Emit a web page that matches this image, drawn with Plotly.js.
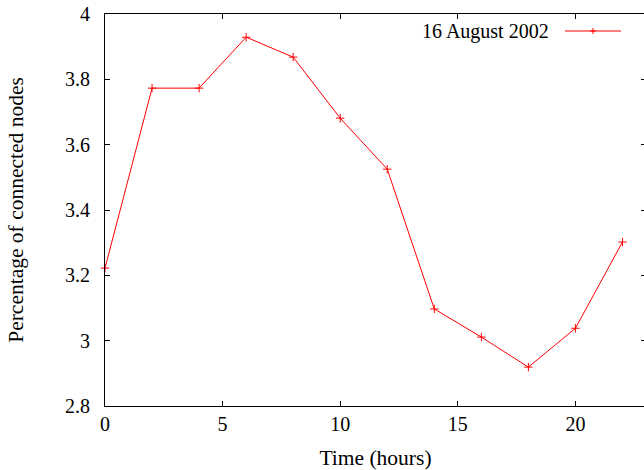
<!DOCTYPE html>
<html>
<head>
<meta charset="utf-8">
<script src="https://cdn.plot.ly/plotly-3.0.1.min.js"></script>
<style>
html,body{margin:0;padding:0;overflow:hidden;background:#fff;}
#chart{width:644px;height:470px;overflow:hidden;}
</style>
</head>
<body>
<div id="chart"></div>
<script>
const hours = [0, 2, 4, 6, 8, 10, 12, 14, 16, 18, 20, 22];
const connected = [3.222, 3.773, 3.773, 3.929, 3.868, 3.681, 3.525, 3.097, 3.011, 2.919, 3.038, 3.302];
const seriesName = "16 August 2002";
const xTicks = [0, 5, 10, 15, 20];
const yTicks = [2.8, 3, 3.2, 3.4, 3.6, 3.8, 4];
const yTickText = ["2.8", "3", "3.2", "3.4", "3.6", "3.8", "4"];

const W = 646, H = 470, L = 105, R = 0, T = 14, B = 64;
const pw = W - L - R, ph = H - T - B;
const px = v => (v - L) / pw;
const py = v => 1 - (v - T) / ph;

const font = {family: "Liberation Serif, Times New Roman, serif", size: 20, color: "#000"};
const titleFont = {family: "Liberation Serif, Times New Roman, serif", size: 21.5, color: "#000"};

const trace = {
  x: hours, y: connected, type: "scatter", mode: "lines+markers", name: seriesName,
  line: {color: "#ff0000", width: 1},
  marker: {symbol: "cross-thin", size: 6, line: {color: "#ff0000", width: 1}, color: "#ff0000"},
  showlegend: false, cliponaxis: false
};

const legY = 31, legX1 = 565, legX2 = 621, legM = 593, ms = 3;
const shapes = [
  {type: "line", xref: "paper", yref: "paper", x0: px(legX1), x1: px(legX2), y0: py(legY), y1: py(legY), line: {color: "#ff0000", width: 1}},
  {type: "line", xref: "paper", yref: "paper", x0: px(legM - ms), x1: px(legM + ms), y0: py(legY), y1: py(legY), line: {color: "#ff0000", width: 1}},
  {type: "line", xref: "paper", yref: "paper", x0: px(legM), x1: px(legM), y0: py(legY - ms), y1: py(legY + ms), line: {color: "#ff0000", width: 1}}
];

const layout = {
  width: W, height: H,
  margin: {l: L, r: R, t: T, b: B, pad: 0},
  paper_bgcolor: "#fff", plot_bgcolor: "#fff",
  font: font,
  showlegend: false,
  xaxis: {
    range: [0, 23], tickvals: xTicks, ticktext: xTicks.map(String),
    ticks: "inside", ticklen: 5, tickwidth: 1, tickcolor: "#000",
    showline: true, linecolor: "#000", linewidth: 1, mirror: "allticks",
    showgrid: false, zeroline: false, tickfont: font,
    title: {text: "Time (hours)", font: titleFont, standoff: 15}
  },
  yaxis: {
    range: [2.8, 4], tickvals: yTicks, ticktext: yTickText,
    ticks: "inside", ticklen: 5, tickwidth: 1, tickcolor: "#000",
    showline: true, linecolor: "#000", linewidth: 1, mirror: "allticks",
    showgrid: false, zeroline: false, tickfont: font,
    ticklabelstandoff: 10,
    title: {text: "Percentage of connected nodes", font: titleFont, standoff: 35}
  },
  shapes: shapes,
  annotations: [
    {text: seriesName, xref: "paper", yref: "paper", x: px(551), y: py(legY), xanchor: "right", yanchor: "middle", showarrow: false, font: font}
  ]
};

Plotly.newPlot("chart", [trace], layout, {displayModeBar: false, staticPlot: true});
</script>
</body>
</html>
